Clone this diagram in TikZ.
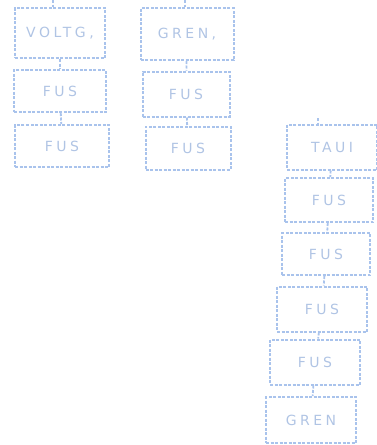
\documentclass[tikz,border=0pt]{standalone}
\usepackage{fontspec}
\setmainfont{DejaVu Sans}[LetterSpace=25]
\definecolor{sketch}{HTML}{A9C3EC}
\definecolor{ink}{HTML}{B0C4E4}
\begin{document}
\begin{tikzpicture}[x=1pt,y=-1pt,
  box/.style={draw=sketch, line width=2pt, dash pattern=on 3pt off 1.5pt, rectangle, inner sep=0pt, text=ink, font=\fontsize{14}{14}\selectfont},
  link/.style={draw=sketch, line width=1.8pt, dash pattern=on 3pt off 1.5pt}]
\useasboundingbox (0,0) rectangle (377,445);
% column 1
\node[box, minimum width=90pt, minimum height=50pt] (v) at (60,33) {VOLTG,};
\node[box, minimum width=92pt, minimum height=42pt] (f1) at (60,91) {FUS};
\node[box, minimum width=94pt, minimum height=42pt] (f2) at (62,146) {FUS};
% column 2
\node[box, minimum width=93pt, minimum height=52pt] (g) at (187,34) {GREN,};
\node[box, minimum width=87pt, minimum height=45pt] (f3) at (186,94) {FUS};
\node[box, minimum width=85pt, minimum height=43pt] (f4) at (188,148) {FUS};
% right column
\node[box, minimum width=90pt, minimum height=45pt] (t) at (332,147) {TAUI};
\node[box, minimum width=88pt, minimum height=44pt] (r1) at (329,200) {FUS};
\node[box, minimum width=88pt, minimum height=42pt] (r2) at (326,254) {FUS};
\node[box, minimum width=90pt, minimum height=45pt] (r3) at (322,309) {FUS};
\node[box, minimum width=90pt, minimum height=45pt] (r4) at (315,362) {FUS};
\node[box, minimum width=90pt, minimum height=46pt] (r5) at (311,420) {GREN};
% entry ticks
\coordinate (s1) at (53,0);
\coordinate (s2) at (185,0);
\coordinate (s3) at (318,118);
\draw[link] (s1) -- (s1 |- v.north);
\draw[link] (s2) -- (s2 |- g.north);
\draw[link] (s3) -- (s3 |- t.north);
% connectors
\draw[link] (v) -- (f1);
\draw[link] (f1) -- (f2);
\draw[link] (g) -- (f3);
\draw[link] (f3) -- (f4);
\draw[link] (t) -- (r1);
\draw[link] (r1) -- (r2);
\draw[link] (r2) -- (r3);
\draw[link] (r3) -- (r4);
\draw[link] (r4) -- (r5);
\end{tikzpicture}
\end{document}
